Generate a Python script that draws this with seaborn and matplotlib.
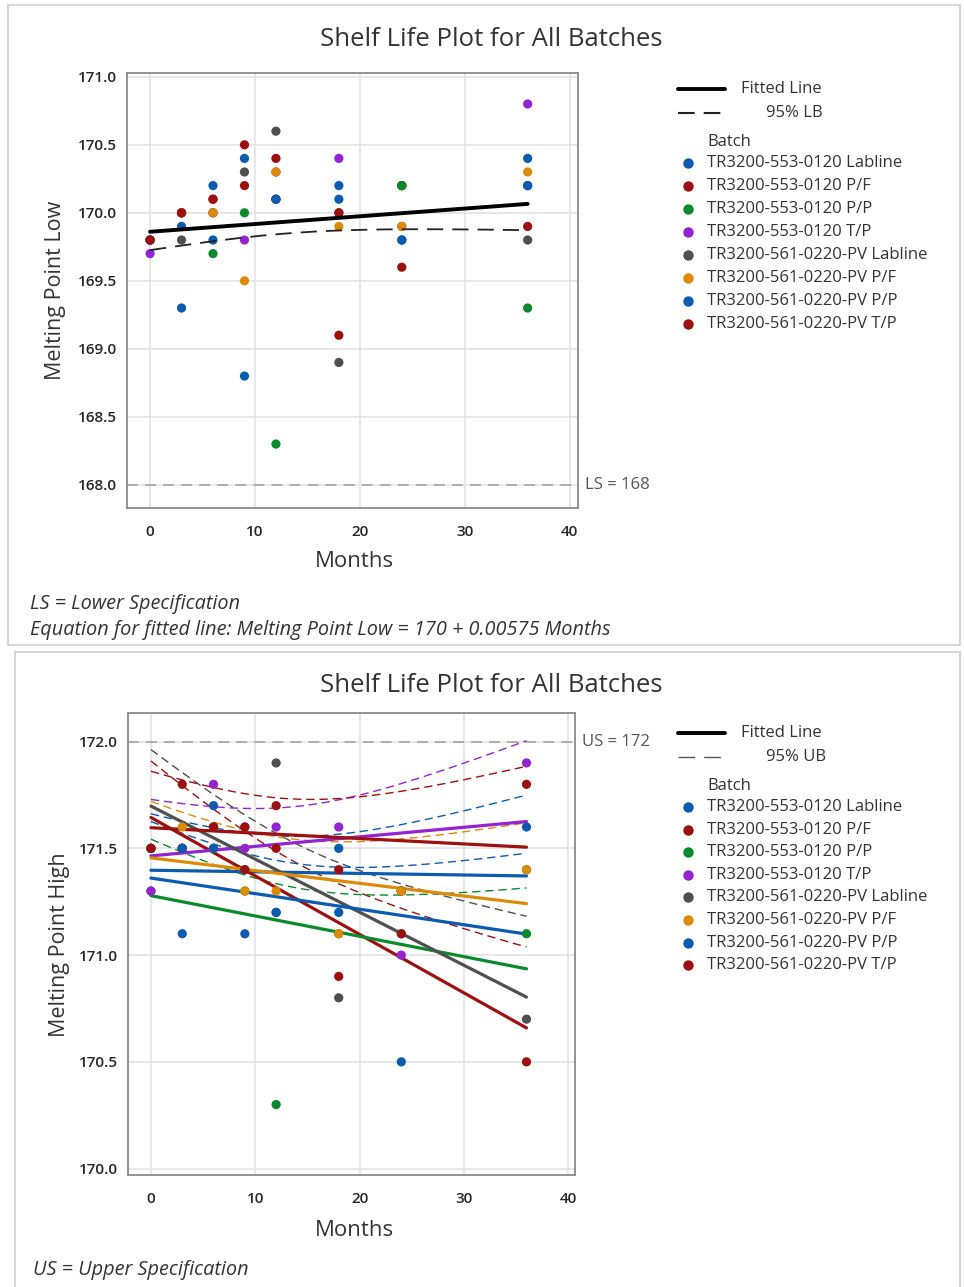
import numpy as np
import pandas as pd
import matplotlib
matplotlib.use("Agg")
import matplotlib.pyplot as plt
import seaborn as sns
from matplotlib.lines import Line2D
from matplotlib.patches import Rectangle

# ---------------- data ----------------
MONTHS = [0, 3, 6, 9, 12, 18, 24, 36]
BATCHES = [
    "TR3200-553-0120 Labline",
    "TR3200-553-0120 P/F",
    "TR3200-553-0120 P/P",
    "TR3200-553-0120 T/P",
    "TR3200-561-0220-PV Labline",
    "TR3200-561-0220-PV P/F",
    "TR3200-561-0220-PV P/P",
    "TR3200-561-0220-PV T/P",
]
COLORS = ["#0b5bb0", "#9c1010", "#0a8a2b", "#9423d2",
          "#4f4f4f", "#dc8b08", "#0b5bb0", "#9c1010"]

# Melting Point Low, one row per batch, one value per month
MELT_LOW = [
    [169.8, 169.3, 169.8, 168.8, 170.1, 170.1, 170.2, 170.4],
    [169.8, 170.0, 170.1, 170.2, 170.1, 169.1, 170.2, 170.2],
    [169.8, 170.0, 169.7, 170.0, 168.3, 170.0, 170.2, 169.3],
    [169.7, 170.0, 170.0, 169.8, 170.3, 170.4, 169.9, 170.8],
    [169.8, 169.8, 170.0, 170.3, 170.6, 168.9, 169.8, 169.8],
    [169.8, 170.0, 170.0, 169.5, 170.3, 169.9, 169.9, 170.3],
    [169.8, 169.9, 170.2, 170.4, 170.1, 170.2, 169.8, 170.2],
    [169.8, 170.0, 170.1, 170.5, 170.4, 170.0, 169.6, 169.9],
]
# Melting Point High
MELT_HIGH = [
    [171.5, 171.1, 171.7, 171.4, 171.2, 171.5, 171.3, 171.4],
    [171.5, 171.5, 171.6, 171.4, 171.5, 170.9, 171.3, 170.5],
    [171.3, 171.5, 171.5, 171.3, 170.3, 171.1, 171.1, 171.1],
    [171.3, 171.5, 171.8, 171.5, 171.6, 171.6, 171.0, 171.9],
    [171.5, 171.5, 171.6, 171.6, 171.9, 170.8, 171.3, 170.7],
    [171.5, 171.6, 171.5, 171.3, 171.3, 171.1, 171.3, 171.4],
    [171.5, 171.5, 171.5, 171.1, 171.2, 171.2, 170.5, 171.6],
    [171.5, 171.8, 171.6, 171.6, 171.7, 171.4, 171.1, 171.8],
]
LOWER_SPEC = 168
UPPER_SPEC = 172
T95_POOLED = 1.6698   # one-sided t(0.95, df=62)
T95_BATCH = 1.6772    # one-sided t(0.95, df=48)


def long_df(values):
    rows = []
    for b, vals in zip(BATCHES, values):
        for m, v in zip(MONTHS, vals):
            rows.append((b, m, v))
    return pd.DataFrame(rows, columns=["Batch", "Months", "Value"])


low_df = long_df(MELT_LOW)
high_df = long_df(MELT_HIGH)

# ---------------- figure ----------------
W, H = 964, 1287
sns.set_theme(style="white")
plt.rcParams["font.family"] = ["Open Sans", "DejaVu Sans"]
fig = plt.figure(figsize=(W / 100, H / 100), dpi=100)


def fx(x):
    return x / W


def fy(y):
    return 1 - y / H


# panel frames
fig.add_artist(Rectangle((fx(8), fy(645)), fx(952), 640 / H, transform=fig.transFigure,
                         fill=False, ec="#d6d6d6", lw=1.5))
fig.add_artist(Rectangle((fx(15), fy(1290)), fx(945), (1290 - 652) / H, transform=fig.transFigure,
                         fill=False, ec="#d6d6d6", lw=1.5))

TXT = "#333333"


def style_axes(ax, xlim, ylim, yticks):
    ax.set_xlim(*xlim)
    ax.set_ylim(*ylim)
    ax.set_xticks([0, 10, 20, 30, 40])
    ax.set_yticks(yticks)
    ax.set_yticklabels([f"{t:.1f}" for t in yticks])
    ax.grid(True, color="#e3e3e3", lw=1.2)
    ax.set_axisbelow(True)
    for s in ax.spines.values():
        s.set_color("#8a8a8a")
        s.set_linewidth(1.3)
    ax.tick_params(axis="both", which="major", direction="out", length=4, width=1,
                   color="#8a8a8a", labelsize=11, labelcolor="#262626")
    ax.tick_params(axis="x", pad=8)
    ax.tick_params(axis="y", pad=3)
    for lab in ax.get_xticklabels() + ax.get_yticklabels():
        lab.set_fontweight("semibold")
    ax.set_xlabel("")
    ax.set_ylabel("")


# ====== TOP: pooled model ======
ax1 = fig.add_axes([fx(127), fy(508), fx(578 - 127), (508 - 72.7) / H])
x_all = low_df["Months"].to_numpy(float)
y_all = low_df["Value"].to_numpy(float)
b1, b0 = np.polyfit(x_all, y_all, 1)
res = y_all - (b0 + b1 * x_all)
n = len(x_all)
s = np.sqrt(np.sum(res ** 2) / (n - 2))
xbar = x_all.mean()
sxx = np.sum((x_all - xbar) ** 2)
xg = np.linspace(0, 36, 200)
fit = b0 + b1 * xg
lb = fit - T95_POOLED * s * np.sqrt(1 / n + (xg - xbar) ** 2 / sxx)

ax1.axhline(LOWER_SPEC, color="#a8a8a8", lw=1.3, ls=(0, (6, 4)), zorder=1)
sns.lineplot(x=xg, y=fit, color="black", lw=2.8, ax=ax1, zorder=4)
sns.lineplot(x=xg, y=lb, color="#222222", lw=1.3, ax=ax1, zorder=4, linestyle=(0, (9, 5)))
sns.scatterplot(data=low_df, x="Months", y="Value", hue="Batch", hue_order=BATCHES,
                palette=COLORS, s=44, edgecolor="none", legend=False, ax=ax1, zorder=3)
style_axes(ax1, (-2.2, 40.8), (167.83, 171.03), [168.0, 168.5, 169.0, 169.5, 170.0, 170.5, 171.0])
ax1.text(1.015, (LOWER_SPEC - 167.83) / (171.03 - 167.83), f"LS = {LOWER_SPEC}",
         transform=ax1.transAxes, va="center", ha="left", fontsize=12, color="#555555")

# ====== BOTTOM: separate slopes / intercepts ======
ax2 = fig.add_axes([fx(128), fy(1175), fx(575 - 128), (1175 - 713) / H])
sse = 0.0
fits = []
for b, vals in zip(BATCHES, MELT_HIGH):
    xm = np.array(MONTHS, float)
    ym = np.array(vals, float)
    k1, k0 = np.polyfit(xm, ym, 1)
    sse += np.sum((ym - (k0 + k1 * xm)) ** 2)
    fits.append((k0, k1, xm.mean(), np.sum((xm - xm.mean()) ** 2), len(xm)))
df_err = len(BATCHES) * len(MONTHS) - 2 * len(BATCHES)
s2 = np.sqrt(sse / df_err)

ax2.axhline(UPPER_SPEC, color="#a8a8a8", lw=1.3, ls=(0, (6, 4)), zorder=1)
ub_rows, fit_rows = [], []
for b, (k0, k1, xm, sx, nn) in zip(BATCHES, fits):
    f = k0 + k1 * xg
    ub = f + T95_BATCH * s2 * np.sqrt(1 / nn + (xg - xm) ** 2 / sx)
    fit_rows.append(pd.DataFrame({"Batch": b, "Months": xg, "Fit": f}))
    ub_rows.append(pd.DataFrame({"Batch": b, "Months": xg, "UB": ub}))
fit_df = pd.concat(fit_rows)
ub_df = pd.concat(ub_rows)
sns.lineplot(data=ub_df, x="Months", y="UB", hue="Batch", hue_order=BATCHES, palette=COLORS,
             lw=1.0, linestyle=(0, (6, 3.5)), legend=False, ax=ax2, zorder=2, estimator=None)
sns.lineplot(data=fit_df, x="Months", y="Fit", hue="Batch", hue_order=BATCHES, palette=COLORS,
             lw=2.3, legend=False, ax=ax2, zorder=4, estimator=None)
sns.scatterplot(data=high_df, x="Months", y="Value", hue="Batch", hue_order=BATCHES,
                palette=COLORS, s=44, edgecolor="none", legend=False, ax=ax2, zorder=5)
style_axes(ax2, (-2.2, 40.65), (169.97, 172.134), [170.0, 170.5, 171.0, 171.5, 172.0])
ax2.text(1.015, (UPPER_SPEC - 169.97) / (172.134 - 169.97), f"US = {UPPER_SPEC}",
         transform=ax2.transAxes, va="center", ha="left", fontsize=12, color="#555555")

# ====== titles / labels ======
for ty in (40, 686):
    fig.text(fx(491), fy(ty), "Shelf Life Plot for All Batches", ha="center", va="center",
             fontsize=18.5, color=TXT)
fig.text(fx(354), fy(562), "Months", ha="center", va="center", fontsize=16, color=TXT)
fig.text(fx(354), fy(1230), "Months", ha="center", va="center", fontsize=16, color=TXT)
fig.text(fx(55), fy(290), "Melting Point Low", ha="center", va="center", rotation=90,
         fontsize=15.5, color=TXT)
fig.text(fx(60), fy(945), "Melting Point High", ha="center", va="center", rotation=90,
         fontsize=15.5, color=TXT)

fig.text(fx(30), fy(604), "LS = Lower Specification", ha="left", va="center",
         fontsize=14.3, style="italic", color=TXT)
fig.text(fx(30), fy(630), "Equation for fitted line: Melting Point Low = 170 + 0.00575 Months",
         ha="left", va="center", fontsize=14.3, style="italic", color=TXT)
fig.text(fx(33), fy(1270), "US = Upper Specification", ha="left", va="center",
         fontsize=14.3, style="italic", color=TXT)


# ====== legends ======
def legend(y0, bound_label, spacing, bound_lw, bound_color):
    fig.add_artist(Line2D([fx(678), fx(725)], [fy(y0), fy(y0)], color="black", lw=2.8,
                          transform=fig.transFigure))
    fig.text(fx(741), fy(y0), "Fitted Line", ha="left", va="center", fontsize=12, color=TXT)
    on = 12.0 / bound_lw
    off = 6.5 / bound_lw
    fig.add_artist(Line2D([fx(678), fx(722)], [fy(y0 + 24), fy(y0 + 24)], color=bound_color,
                          lw=bound_lw, ls=(0, (on, off)), transform=fig.transFigure))
    fig.text(fx(766), fy(y0 + 24), bound_label, ha="left", va="center", fontsize=12, color=TXT)
    fig.text(fx(707), fy(y0 + 53), "Batch", ha="left", va="center", fontsize=12, color=TXT)
    for i, (b, c) in enumerate(zip(BATCHES, COLORS)):
        yy = y0 + 74 + spacing * i
        fig.add_artist(Line2D([fx(688)], [fy(yy)], marker="o", ms=7.5, color=c, mec="none",
                              transform=fig.transFigure))
        fig.text(fx(707), fy(yy), b, ha="left", va="center", fontsize=12, color=TXT)


legend(89, "95% LB", 23, 1.5, "#222222")
legend(733, "95% UB", 22.6, 1.0, "#555555")

fig.savefig("out.png", dpi=100)
